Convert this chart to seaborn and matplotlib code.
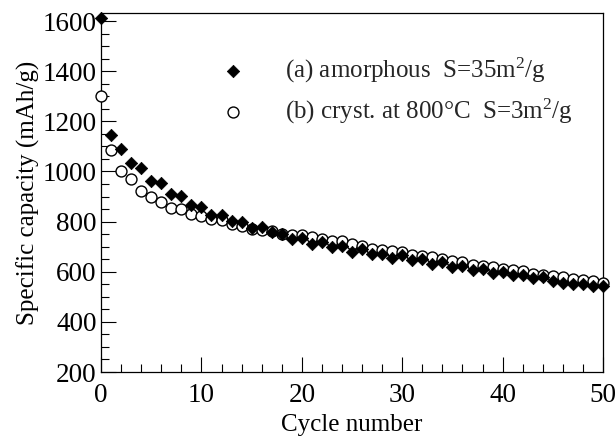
import numpy as np
import pandas as pd
import seaborn as sns
import matplotlib.pyplot as plt
from matplotlib.ticker import MultipleLocator

# values
cycles = list(range(0, 51))
amorphous = [1610, 1145, 1090, 1035, 1012, 962, 952, 910, 903, 868, 858, 828, 828,
             803, 798, 775, 780, 760, 752, 730, 735, 710, 718, 698, 702, 680, 690,
             670, 672, 655, 665, 645, 650, 632, 640, 620, 622, 605, 610, 595, 600,
             585, 588, 575, 577, 562, 557, 552, 552, 545, 542]
crystalline = [1302, 1085, 1003, 970, 922, 898, 878, 855, 850, 830, 822, 812, 808,
               792, 782, 772, 768, 762, 752, 745, 745, 737, 732, 722, 722, 712, 702,
               692, 688, 682, 677, 667, 662, 657, 652, 642, 637, 627, 622, 617, 612,
               607, 602, 592, 587, 582, 577, 572, 567, 562, 557]
label_a = "(a) amorphous  S=35m$^2$/g"
label_b = "(b) cryst. at 800\u00b0C  S=3m$^2$/g"

sns.set_theme(style="ticks")
plt.rcParams['font.family'] = ['Liberation Serif', 'DejaVu Serif']
plt.rcParams['mathtext.fontset'] = 'custom'
plt.rcParams['mathtext.rm'] = 'Liberation Serif'
plt.rcParams['mathtext.it'] = 'Liberation Serif:italic'

df = pd.DataFrame({'cycle': cycles, 'a': amorphous, 'b': crystalline})

fig = plt.figure(figsize=(6.16, 4.4), dpi=100)
ax = fig.add_axes([0.164, 0.1545, 0.815, 0.816])

sns.scatterplot(data=df, x='cycle', y='b', ax=ax, marker='o', s=62,
                color='white', edgecolor='black', linewidth=1.0,
                label=label_b, clip_on=False, zorder=3)
sns.scatterplot(data=df, x='cycle', y='a', ax=ax, marker='D', s=40,
                color='black', edgecolor='black', linewidth=0.5,
                label=label_a, clip_on=False, zorder=4)

ax.set_xlim(0, 50)
ax.set_ylim(200, 1632)
ax.xaxis.set_major_locator(MultipleLocator(10))
ax.xaxis.set_minor_locator(MultipleLocator(2))
ax.yaxis.set_major_locator(MultipleLocator(200))
ax.yaxis.set_minor_locator(MultipleLocator(50))
ax.set_yticks([200, 400, 600, 800, 1000, 1200, 1400, 1600])
ax.tick_params(which='both', direction='in', top=False, right=False,
               width=0.8, color='black', labelsize=19.5, labelcolor='black')
ax.tick_params(which='major', length=11)
ax.tick_params(which='minor', length=6)
ax.tick_params(axis='x', which='major', pad=8)
ax.tick_params(axis='y', which='major', pad=3)
for sp in ax.spines.values():
    sp.set_visible(True)
    sp.set_color('black')
    sp.set_linewidth(0.9)

ax.set_xlabel('Cycle number', fontsize=18, color='black', labelpad=4)
ax.set_ylabel('Specific capacity (mAh/g)', fontsize=18, color='black', labelpad=2)

handles, labels = ax.get_legend_handles_labels()
ax.legend(handles[::-1], labels[::-1], loc='upper left',
          bbox_to_anchor=(0.213, 0.88), frameon=False, fontsize=18,
          borderpad=0, borderaxespad=0, handletextpad=1.1, labelspacing=0.45,
          markerscale=1.0)

fig.savefig('out.png', dpi=100)
